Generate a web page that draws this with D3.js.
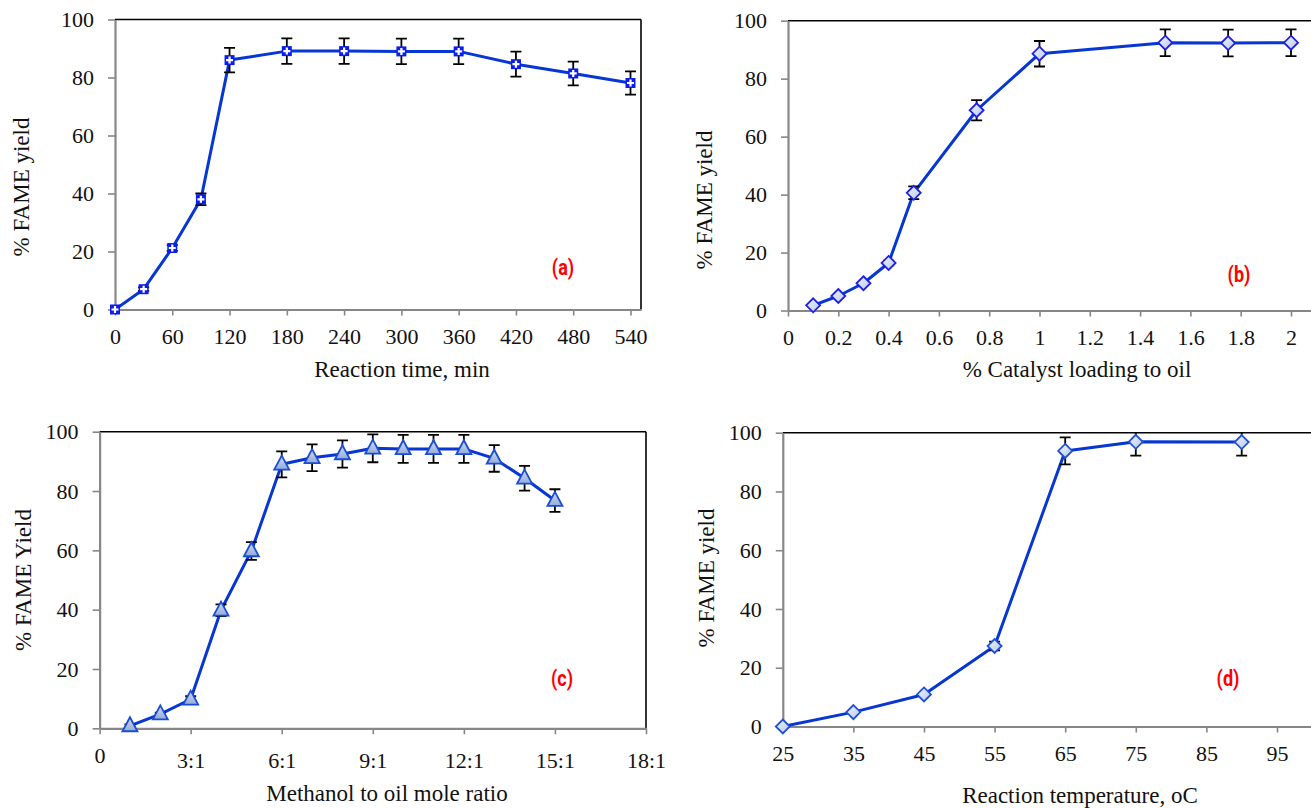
<!DOCTYPE html>
<html>
<head>
<meta charset="utf-8">
<script src="https://cdn.jsdelivr.net/npm/d3@7"></script>
<style>
  html, body { margin: 0; padding: 0; background: #fff; }
  svg { display: block; }
  .tick text { font-family: "Liberation Serif", "Times New Roman", serif; fill: #111; }
</style>
</head>
<body>
<svg id="chart" width="1311" height="808"></svg>
<script>
// ---------- data ----------
const yTicks = [0, 20, 40, 60, 80, 100];

// (a) reaction time
const timeMin   = [0, 30, 60, 90, 120, 180, 240, 300, 360, 420, 480, 540];
const yieldTime = [0, 7, 21.2, 38, 86, 89.1, 89.1, 89, 89, 84.6, 81.4, 78.1];
const errTime   = [0, 0.6, 1, 2, 4.2, 4.4, 4.4, 4.4, 4.4, 4.3, 4.1, 4];
const timeTicks = [0, 60, 120, 180, 240, 300, 360, 420, 480, 540];

// (b) catalyst loading
const catalystLoading = [0.1, 0.2, 0.3, 0.4, 0.5, 0.75, 1, 1.5, 1.75, 2];
const yieldCatalyst   = [1.8, 5, 9.4, 16.4, 40.6, 69.1, 88.6, 92.4, 92.3, 92.4];
const errCatalyst     = [0.3, 0.5, 0.6, 0.8, 2.2, 3.5, 4.4, 4.6, 4.6, 4.6];
const catalystTicks   = [0, 0.2, 0.4, 0.6, 0.8, 1, 1.2, 1.4, 1.6, 1.8, 2];

// (c) methanol to oil mole ratio
const methanolRatio  = [1, 2, 3, 4, 5, 6, 7, 8, 9, 10, 11, 12, 13, 14, 15];
const yieldMethanol  = [0.8, 4.8, 9.8, 39.8, 59.8, 89, 91.2, 92.5, 94.4, 94.2, 94.2, 94.2, 91, 84.3, 76.8];
const errMethanol    = [0.5, 0.5, 1, 2, 3, 4.4, 4.5, 4.6, 4.7, 4.7, 4.7, 4.7, 4.5, 4.2, 3.8];
const methanolTicks  = [0, 3, 6, 9, 12, 15, 18];
const methanolLabels = ["0", "3:1", "6:1", "9:1", "12:1", "15:1", "18:1"];

// (d) reaction temperature
const temperature = [25, 35, 45, 55, 65, 75, 90];
const yieldTemp   = [0, 4.9, 10.9, 27.4, 93.8, 96.9, 96.8];
const errTemp     = [0, 0, 0, 1.5, 4.6, 4.7, 4.6];
const tempTicks   = [25, 35, 45, 55, 65, 75, 85, 95];

// ---------- drawing ----------
const svg = d3.select("#chart");
const defs = svg.append("defs");

const gd = defs.append("linearGradient").attr("id", "gDiamond")
  .attr("x1", "0").attr("y1", "0").attr("x2", "1").attr("y2", "1");
gd.append("stop").attr("offset", "0").attr("stop-color", "#f4f7fc");
gd.append("stop").attr("offset", "1").attr("stop-color", "#b4c6e6");

const gt = defs.append("linearGradient").attr("id", "gTri")
  .attr("x1", "0").attr("y1", "0").attr("x2", "0").attr("y2", "1");
gt.append("stop").attr("offset", "0").attr("stop-color", "#cfdcf1");
gt.append("stop").attr("offset", "1").attr("stop-color", "#94acd8");

const LINE = "#0636d4";
const AXIS = "#878787";
const SERIF = '"Liberation Serif", "Times New Roman", serif';

function panel(cfg) {
  const g = svg.append("g");
  const x = d3.scaleLinear().domain(cfg.xDomain).range(cfg.xRange);
  const y = d3.scaleLinear().domain([0, 100]).range(cfg.yRange);
  const [px0, px1] = cfg.xRange;
  const [py0, py1] = cfg.yRange; // bottom, top

  const clipId = "clip" + cfg.id;
  defs.append("clipPath").attr("id", clipId).append("rect")
    .attr("x", px0).attr("y", py1).attr("width", px1 - px0).attr("height", py0 - py1);

  // top and right frame (black)
  g.append("line").attr("x1", px0).attr("x2", px1).attr("y1", py1).attr("y2", py1)
    .attr("stroke", "#000").attr("stroke-width", 1.6);
  g.append("line").attr("x1", px1).attr("x2", px1).attr("y1", py1).attr("y2", py0)
    .attr("stroke", "#000").attr("stroke-width", 1.6);

  // axes
  const yAxis = d3.axisLeft(y).tickValues(yTicks).tickSize(7).tickSizeOuter(0).tickPadding(14);
  const ya = g.append("g").attr("transform", `translate(${px0},0)`).call(yAxis);
  const xAxis = d3.axisBottom(x).tickValues(cfg.xTicks).tickSize(6).tickSizeOuter(0)
    .tickPadding(13 + (cfg.xLabelShift || 0))
    .tickFormat((d, i) => cfg.xLabels ? cfg.xLabels[i] : d3.format("~g")(d));
  const xa = g.append("g").attr("transform", `translate(0,${py0})`).call(xAxis);
  [ya, xa].forEach(a => {
    a.select(".domain").attr("stroke", AXIS).attr("stroke-width", 2.2);
    a.selectAll(".tick line").attr("stroke", AXIS).attr("stroke-width", 1.6);
    a.selectAll(".tick text").attr("font-size", 22).attr("font-family", SERIF).attr("fill", "#111");
  });
  if (cfg.zeroRaise) {
    xa.selectAll(".tick text").filter(d => d === 0)
      .attr("y", 19 + (cfg.xLabelShift || 0) - cfg.zeroRaise);
  }

  // axis titles
  g.append("text").attr("x", cfg.xTitlePos[0]).attr("y", cfg.xTitlePos[1])
    .attr("text-anchor", "middle").attr("font-family", SERIF).attr("font-size", 23)
    .attr("fill", "#111").text(cfg.xTitle);
  g.append("text").attr("transform", `translate(${cfg.yTitlePos[0]},${cfg.yTitlePos[1]}) rotate(-90)`)
    .attr("text-anchor", "middle").attr("font-family", SERIF).attr("font-size", 23)
    .attr("fill", "#111").text(cfg.yTitle);

  // panel label
  g.append("text").attr("transform", `translate(${cfg.labelPos[0]},${cfg.labelPos[1]}) scale(0.82,1)`)
    .attr("text-anchor", "middle").attr("font-family", '"Liberation Sans Narrow", "Roboto", "Arial Narrow", sans-serif')
    .attr("font-weight", "bold").attr("font-size", 22).attr("fill", "#ff0000").text(cfg.label);

  const data = cfg.xs.map((v, i) => ({ x: v, y: cfg.ys[i], e: cfg.es[i] }));
  const plot = g.append("g").attr("clip-path", `url(#${clipId})`);

  // line
  plot.append("path").datum(data)
    .attr("d", d3.line().x(d => x(d.x)).y(d => y(d.y)))
    .attr("fill", "none").attr("stroke", LINE).attr("stroke-width", 3).attr("stroke-linejoin", "round");

  // error bars
  const cap = 5.5;
  const eb = plot.append("g").attr("stroke", "#000").attr("stroke-width", 1.8);
  data.filter(d => d.e > 0).forEach(d => {
    const cx = x(d.x), t = y(d.y + d.e), b = y(d.y - d.e);
    eb.append("line").attr("x1", cx).attr("x2", cx).attr("y1", t).attr("y2", b);
    eb.append("line").attr("x1", cx - cap).attr("x2", cx + cap).attr("y1", t).attr("y2", t);
    eb.append("line").attr("x1", cx - cap).attr("x2", cx + cap).attr("y1", b).attr("y2", b);
  });

  // markers
  const mk = g.append("g");
  data.forEach(d => {
    const cx = x(d.x), cy = y(d.y);
    if (cfg.marker === "plus") {
      mk.append("rect").attr("x", cx - 5).attr("y", cy - 5).attr("width", 10).attr("height", 10)
        .attr("fill", "#0a1df0");
      mk.append("path").attr("d", `M${cx - 3.5},${cy}H${cx + 3.5}M${cx},${cy - 3.5}V${cy + 3.5}`)
        .attr("stroke", "#fff").attr("stroke-width", 2.2);
    } else if (cfg.marker === "diamond") {
      const r = 7;
      mk.append("path").attr("d", `M${cx},${cy - r}L${cx + r},${cy}L${cx},${cy + r}L${cx - r},${cy}Z`)
        .attr("fill", "url(#gDiamond)").attr("stroke", cfg.markerStroke).attr("stroke-width", 1.8);
    } else {
      const h = 14, w = 15;
      mk.append("path").attr("d", `M${cx},${cy - h * 0.62}L${cx + w / 2},${cy + h * 0.38}L${cx - w / 2},${cy + h * 0.38}Z`)
        .attr("fill", "url(#gTri)").attr("stroke", "#1a4cd6").attr("stroke-width", 1.8)
        .attr("stroke-linejoin", "miter");
    }
  });
}

panel({
  id: "a", xs: timeMin, ys: yieldTime, es: errTime,
  xDomain: [0, 551], xRange: [115, 641], yRange: [309.5, 19.5],
  xTicks: timeTicks, marker: "plus",
  xTitle: "Reaction time, min", xTitlePos: [402, 377],
  yTitle: "% FAME yield", yTitlePos: [29, 187],
  label: "(a)", labelPos: [563, 275]
});

panel({
  id: "b", xs: catalystLoading, ys: yieldCatalyst, es: errCatalyst,
  xDomain: [0, 2.2], xRange: [788, 1341.3], yRange: [310.5, 20.7],
  xTicks: catalystTicks, marker: "diamond", markerStroke: "#1f1fe6",
  xTitle: "% Catalyst loading to oil", xTitlePos: [1077, 377],
  yTitle: "% FAME yield", yTitlePos: [712, 200],
  label: "(b)", labelPos: [1239, 282]
});

panel({
  id: "c", xs: methanolRatio, ys: yieldMethanol, es: errMethanol,
  xDomain: [0, 18], xRange: [99.6, 646], yRange: [728.3, 431.7],
  xTicks: methanolTicks, xLabels: methanolLabels, marker: "triangle", zeroRaise: 5, xLabelShift: 5,
  xTitle: "Methanol to oil mole ratio", xTitlePos: [387, 801],
  yTitle: "% FAME Yield", yTitlePos: [31, 580],
  label: "(c)", labelPos: [562, 686]
});

panel({
  id: "d", xs: temperature, ys: yieldTemp, es: errTemp,
  xDomain: [25, 105], xRange: [782.8, 1347.6], yRange: [726.5, 432.7],
  xTicks: tempTicks, marker: "diamond", markerStroke: "#2050d8",
  xTitle: "Reaction temperature, oC", xTitlePos: [1080, 803],
  yTitle: "% FAME yield", yTitlePos: [714, 578],
  label: "(d)", labelPos: [1228, 686]
});
</script>
</body>
</html>
